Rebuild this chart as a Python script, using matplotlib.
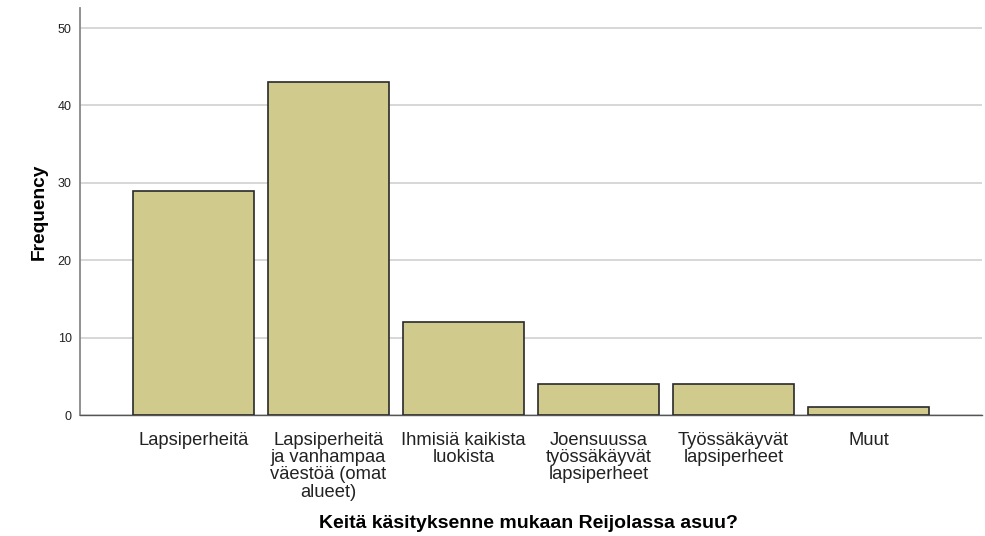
import matplotlib
matplotlib.use("Agg")
import matplotlib.pyplot as plt

categories = ["Lapsiperheitä",
              "Lapsiperheitä\nja vanhampaa\nväestöä (omat\nalueet)",
              "Ihmisiä kaikista\nluokista",
              "Joensuussa\ntyössäkäyvät\nlapsiperheet",
              "Työssäkäyvät\nlapsiperheet",
              "Muut"]
frequencies = [29, 43, 12, 4, 4, 1]
yticks = [0, 10, 20, 30, 40, 50]

plt.rcParams['font.family'] = ['Liberation Sans', 'DejaVu Sans']

fig = plt.figure(figsize=(9.85, 5.36), dpi=100)
ax = fig.add_axes([80/985, 1-415/536, (982-80)/985, (415-8)/536])

x = list(range(len(categories)))
ax.bar(x, frequencies, width=0.9, color='#D0CB8D', edgecolor='#2a2a2a', linewidth=1.2, zorder=3)

ax.set_xlim(-0.84, 5.84)
ax.set_ylim(0, 52.6)
ax.set_yticks(yticks)
ax.set_yticklabels([str(v) for v in yticks], fontsize=9, color='#222222')
ax.yaxis.grid(True, color='#d4d4d4', linewidth=1.3, zorder=0)
ax.set_axisbelow(True)
ax.set_xticks(x)
ax.set_xticklabels(categories, fontsize=13.2, linespacing=1.03, color='#222222')
ax.tick_params(axis='x', length=0, pad=12)
ax.tick_params(axis='y', length=0, pad=6)

for s in ['top', 'right']:
    ax.spines[s].set_visible(False)
ax.spines['left'].set_color('#888888')
ax.spines['bottom'].set_color('#555555')
ax.spines['left'].set_linewidth(1.3)
ax.spines['bottom'].set_linewidth(1.0)

ax.set_ylabel('Frequency', fontsize=13.8, fontweight='bold', labelpad=7)
fig.text((316+740)/2/985, 1-524/536, 'Keitä käsityksenne mukaan Reijolassa asuu?',
         ha='center', va='center', fontsize=14, fontweight='bold')

fig.savefig('out.png', dpi=100)
